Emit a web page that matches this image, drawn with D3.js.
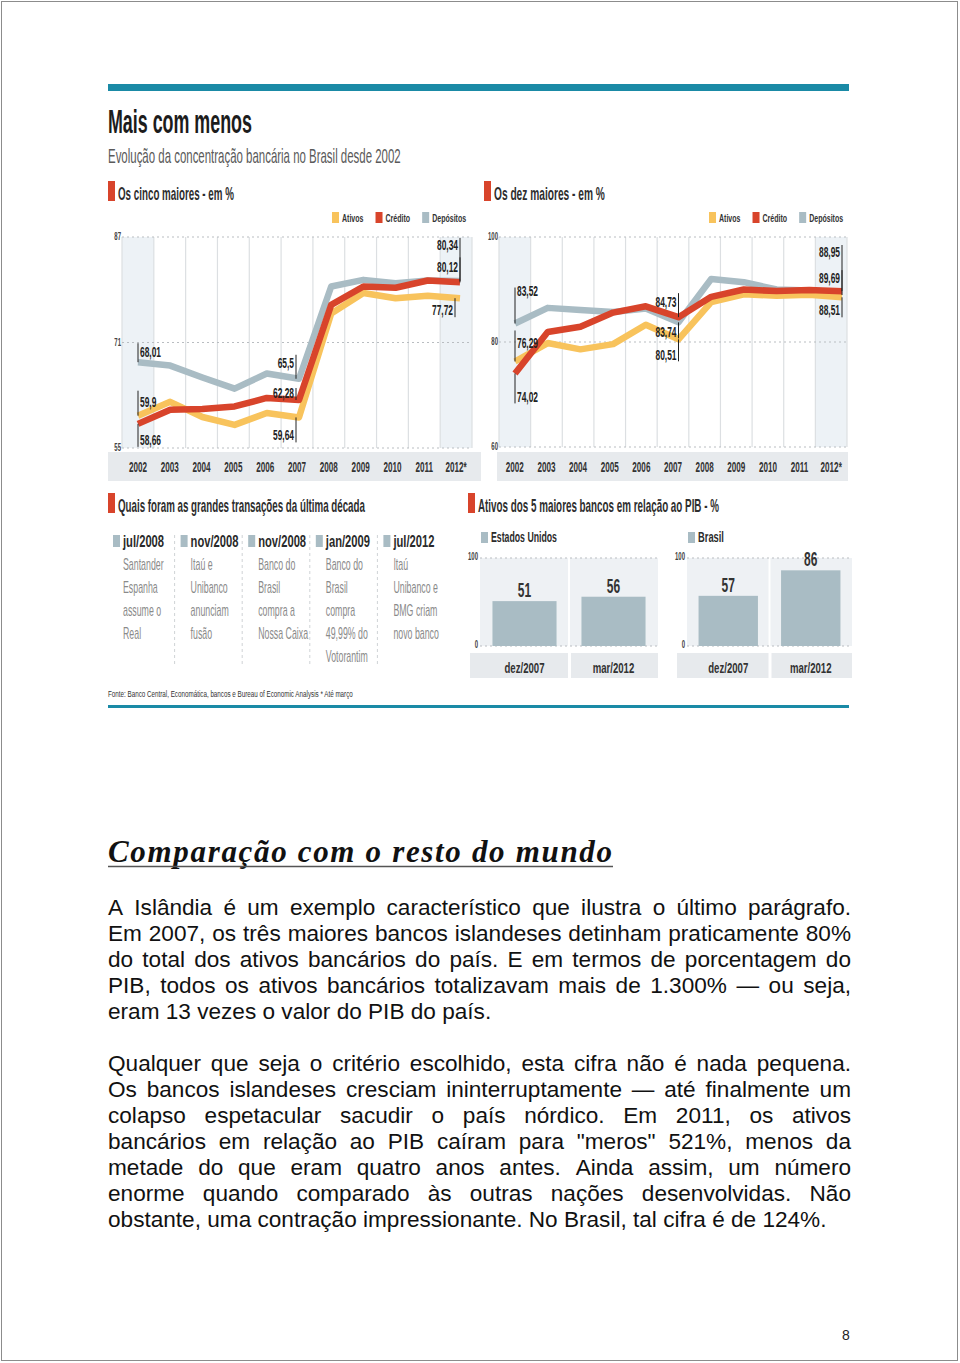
<!DOCTYPE html>
<html>
<head>
<meta charset="utf-8">
<script src="https://cdn.jsdelivr.net/npm/d3@7"></script>
<style>
  body { margin: 0; background: #fff; }
  svg { display: block; }
</style>
</head>
<body>
<div id="page"></div>
<script>
// ---- data ----
const years = ['2002', '2003', '2004', '2005', '2006', '2007', '2008', '2009', '2010', '2011', '2012'];
const yearLabels = ['2002', '2003', '2004', '2005', '2006', '2007', '2008', '2009', '2010', '2011', '2012*'];
const seriesNames = ['Ativos', 'Crédito', 'Depósitos'];

// os cinco maiores - em %
const cincoAtivos    = [59.9, 62.0, 59.7, 58.5, 60.3, 59.64, 75.4, 78.5, 77.7, 78.1, 77.72];
const cincoCredito   = [58.66, 60.8, 60.9, 61.3, 62.6, 62.28, 76.7, 79.5, 79.3, 80.4, 80.12];
const cincoDepositos = [68.01, 67.5, 65.7, 64.0, 66.3, 65.5, 79.5, 80.5, 80.0, 80.4, 80.34];
const cincoTicks = [55, 71, 87];

// os dez maiores - em %
const dezAtivos    = [76.29, 79.8, 78.6, 79.6, 83.3, 80.51, 87.6, 89.1, 88.8, 89.0, 88.51];
const dezCredito   = [74.02, 81.9, 82.9, 85.6, 86.8, 84.73, 88.6, 90.0, 89.7, 89.9, 89.69];
const dezDepositos = [83.52, 86.5, 86.1, 85.7, 86.4, 83.74, 92.0, 91.4, 90.0, 89.8, 88.95];
const dezTicks = [60, 80, 100];

// grandes transações
const dealDates = ['jul/2008', 'nov/2008', 'nov/2008', 'jan/2009', 'jul/2012'];
const dealTexts = [
  ['Santander', 'Espanha', 'assume o', 'Real'],
  ['Itaú e', 'Unibanco', 'anunciam', 'fusão'],
  ['Banco do', 'Brasil', 'compra a', 'Nossa Caixa'],
  ['Banco do', 'Brasil', 'compra', '49,99% do', 'Votorantim'],
  ['Itaú', 'Unibanco e', 'BMG criam', 'novo banco']
];

// ativos dos 5 maiores bancos em relação ao PIB - %
const pibPeriods = ['dez/2007', 'mar/2012'];
const euaValues = [51, 56];
const brasilValues = [57, 86];
const pibTicks = [0, 100];

const para1 = [
  'A Islândia é um exemplo característico que ilustra o último parágrafo.',
  'Em 2007, os três maiores bancos islandeses detinham praticamente 80%',
  'do total dos ativos bancários do país. E em termos de porcentagem do',
  'PIB, todos os ativos bancários totalizavam mais de 1.300% — ou seja,',
  'eram 13 vezes o valor do PIB do país.'
];
const para2 = [
  'Qualquer que seja o critério escolhido, esta cifra não é nada pequena.',
  'Os bancos islandeses cresciam ininterruptamente — até finalmente um',
  'colapso espetacular sacudir o país nórdico. Em 2011, os ativos',
  'bancários em relação ao PIB caíram para "meros" 521%, menos da',
  'metade do que eram quatro anos antes. Ainda assim, um número',
  'enorme quando comparado às outras nações desenvolvidas. Não',
  'obstante, uma contração impressionante. No Brasil, tal cifra é de 124%.'
];

// ---- drawing ----
const W = 960, H = 1363;
const TEAL = '#1a8aa6', YEL = '#f8c35c', RED = '#d8442b', GRY = '#a9bcc4';
const SHADE = '#edf2f6', BAND = '#e7eaed';
const colors = [YEL, RED, GRY];

const svg = d3.select('#page').append('svg')
    .attr('width', W)
    .attr('height', H)
    .attr('font-family', "'Liberation Sans', Arial, sans-serif");

svg.append('rect')
    .attr('x', 1.5).attr('y', 1.5)
    .attr('width', W - 4).attr('height', H - 4)
    .attr('fill', '#fff')
    .attr('stroke', '#8c8c8c');

// condensed look: squash each label horizontally around its anchor
function squeeze(sel, k) {
  sel.each(function() {
    const s = d3.select(this);
    const x = +s.attr('x') || 0, y = +s.attr('y') || 0;
    s.attr('x', 0).attr('y', 0)
     .attr('transform', `translate(${x},${y}) scale(${k},1)`);
  });
  return sel;
}
function fitTo(sel, w) {
  const k = w / sel.node().getComputedTextLength();
  return squeeze(sel, k);
}
const fmt = v => String(v).replace('.', ',');

// top rule and titles
svg.append('rect').attr('x', 108).attr('y', 84).attr('width', 741).attr('height', 7).attr('fill', TEAL);
fitTo(svg.append('text').attr('x', 108).attr('y', 133)
    .attr('font-size', 33).attr('font-weight', 'bold').attr('fill', '#1c1c1c')
    .text('Mais com menos'), 144);
fitTo(svg.append('text').attr('x', 108).attr('y', 163)
    .attr('font-size', 20).attr('fill', '#5a5a5a')
    .text('Evolução da concentração bancária no Brasil desde 2002'), 293);

function sectionHead(x, y, label, w) {
  svg.append('rect').attr('x', x).attr('y', y - 19).attr('width', 7).attr('height', 20).attr('fill', RED);
  fitTo(svg.append('text').attr('x', x + 10).attr('y', y)
      .attr('font-size', 18).attr('font-weight', 'bold').attr('fill', '#2e2e2e')
      .text(label), w);
}

function lineChart(cfg) {
  const g = svg.append('g');
  const x = d3.scaleBand().domain(years).range(cfg.band);
  const xp = d3.scalePoint().domain(years).range(cfg.points);
  const y = d3.scaleLinear().domain(cfg.domain).range(cfg.yRange);
  const top = cfg.yRange[1], bottom = cfg.yRange[0];

  sectionHead(cfg.headX, 200, cfg.title, cfg.titleW);

  // legend
  let lx = cfg.legendX;
  seriesNames.forEach((n, i) => {
    g.append('rect').attr('x', lx).attr('y', 212).attr('width', 7).attr('height', 11).attr('fill', colors[i]);
    const t = g.append('text').attr('x', lx + 10).attr('y', 222)
        .attr('font-size', 11).attr('font-weight', 'bold').attr('fill', '#333')
        .text(n);
    const w = t.node().getComputedTextLength() * 0.64;
    squeeze(t, 0.64);
    lx += 10 + w + 12;
  });

  // highlighted first and last columns
  [years[0], years[years.length - 1]].forEach(yr => {
    g.append('rect').attr('x', x(yr)).attr('y', top)
        .attr('width', x.bandwidth()).attr('height', bottom - top)
        .attr('fill', SHADE);
  });

  // column separators
  const edges = years.map(yr => x(yr)).concat([x(years[years.length - 1]) + x.bandwidth()]);
  g.selectAll('.vgrid').data(edges).join('line')
      .attr('x1', d => d).attr('x2', d => d)
      .attr('y1', top).attr('y2', bottom)
      .attr('stroke', '#dcdfe2').attr('stroke-width', 1.2);

  // dotted levels + tick labels
  g.selectAll('.hgrid').data(cfg.ticks).join('line')
      .attr('x1', cfg.band[0]).attr('x2', cfg.band[1])
      .attr('y1', d => y(d)).attr('y2', d => y(d))
      .attr('stroke', '#b9bdc1').attr('stroke-width', 1.2).attr('stroke-dasharray', '2,3');
  squeeze(g.selectAll('.tick').data(cfg.ticks).join('text')
      .attr('x', cfg.band[0] - 1).attr('y', d => y(d) + 3)
      .attr('text-anchor', 'end')
      .attr('font-size', 10).attr('font-weight', 'bold').attr('fill', '#444')
      .text(d => d), 0.6);

  // year band
  g.append('rect').attr('x', cfg.axisBand[0]).attr('y', 452)
      .attr('width', cfg.axisBand[1] - cfg.axisBand[0]).attr('height', 29)
      .attr('fill', BAND);
  squeeze(g.selectAll('.year').data(years).join('text')
      .attr('x', d => x(d) + x.bandwidth() / 2).attr('y', 472)
      .attr('text-anchor', 'middle')
      .attr('font-size', 14).attr('font-weight', 'bold').attr('fill', '#333')
      .text((d, i) => yearLabels[i]), 0.58);

  // lines: depósitos below, crédito on top
  const line = d3.line().x((d, i) => xp(years[i])).y(d => y(d));
  [2, 0, 1].forEach(s => {
    g.append('path').datum(cfg.series[s])
        .attr('d', line)
        .attr('fill', 'none')
        .attr('stroke', colors[s])
        .attr('stroke-width', 6.5)
        .attr('stroke-linejoin', 'round');
  });

  // value call-outs
  cfg.notes.forEach(n => {
    const v = cfg.series[n.s][n.i];
    const px = xp(years[n.i]) + (n.dx || 0), py = y(v);
    g.append('line')
        .attr('x1', px).attr('x2', px)
        .attr('y1', py).attr('y2', py + n.end)
        .attr('stroke', '#222').attr('stroke-width', 1);
    squeeze(g.append('text')
        .attr('x', n.anchor === 'end' ? px - 2 : px + 2)
        .attr('y', py + n.base)
        .attr('text-anchor', n.anchor)
        .attr('font-size', 14).attr('font-weight', 'bold').attr('fill', '#222')
        .text(fmt(v)), 0.6);
  });
}

lineChart({
  title: 'Os cinco maiores - em %', titleW: 116, headX: 108, legendX: 332,
  band: [122, 472], points: [138, 460], domain: [55, 87], yRange: [448, 237],
  ticks: cincoTicks, axisBand: [108, 481],
  series: [cincoAtivos, cincoCredito, cincoDepositos],
  notes: [
    {s: 2, i: 0, end: -19, base: -5, anchor: 'start'},
    {s: 0, i: 0, end: -25, base: -9, anchor: 'start'},
    {s: 1, i: 0, end: 23, base: 21, anchor: 'start'},
    {s: 2, i: 5, end: -24, base: -11, anchor: 'end', dx: -3},
    {s: 1, i: 5, end: -12, base: -2, anchor: 'end', dx: -3},
    {s: 0, i: 5, end: 25, base: 23, anchor: 'end', dx: -3},
    {s: 2, i: 10, end: -43, base: -31, anchor: 'end'},
    {s: 1, i: 10, end: -25, base: -10, anchor: 'end'},
    {s: 0, i: 10, end: 19, base: 17, anchor: 'end', dx: -5}
  ]
});

lineChart({
  title: 'Os dez maiores - em %', titleW: 111, headX: 484, legendX: 709,
  band: [499, 847], points: [515, 842], domain: [60, 100], yRange: [447, 237],
  ticks: dezTicks, axisBand: [497, 848],
  series: [dezAtivos, dezCredito, dezDepositos],
  notes: [
    {s: 2, i: 0, end: -36, base: -28, anchor: 'start'},
    {s: 0, i: 0, end: -31, base: -13, anchor: 'start'},
    {s: 1, i: 0, end: 30, base: 29, anchor: 'start'},
    {s: 1, i: 5, end: -24, base: -10, anchor: 'end'},
    {s: 2, i: 5, end: 16, base: 15, anchor: 'end'},
    {s: 0, i: 5, end: 22, base: 21, anchor: 'end'},
    {s: 2, i: 10, end: -50, base: -38, anchor: 'end'},
    {s: 1, i: 10, end: -21, base: -8, anchor: 'end'},
    {s: 0, i: 10, end: 20, base: 18, anchor: 'end'}
  ]
});

// ---- grandes transações ----
sectionHead(108, 512, 'Quais foram as grandes transações da última década', 247);
dealDates.forEach((d, i) => {
  const cx = 113 + i * 67.6;
  if (i > 0) {
    svg.append('line').attr('x1', cx - 6).attr('x2', cx - 6).attr('y1', 535).attr('y2', 665)
        .attr('stroke', '#cfd3d6').attr('stroke-dasharray', '3,3');
  }
  svg.append('rect').attr('x', cx).attr('y', 535).attr('width', 7).attr('height', 12).attr('fill', GRY);
  squeeze(svg.append('text').attr('x', cx + 10).attr('y', 547)
      .attr('font-size', 16).attr('font-weight', 'bold').attr('fill', '#2a2a2a')
      .text(d), 0.7);
  squeeze(svg.selectAll(null).data(dealTexts[i]).join('text')
      .attr('x', cx + 10).attr('y', (t, k) => 570 + k * 23.1)
      .attr('font-size', 16).attr('fill', '#8a8a8a')
      .text(t => t), 0.55);
});
fitTo(svg.append('text').attr('x', 108).attr('y', 697)
    .attr('font-size', 9).attr('fill', '#333')
    .text('Fonte: Banco Central, Economática, bancos e Bureau of Economic Analysis * Até março'), 245);
svg.append('rect').attr('x', 108).attr('y', 705).attr('width', 741).attr('height', 3).attr('fill', TEAL);

// ---- ativos em relação ao PIB ----
sectionHead(468, 512, 'Ativos dos 5 maiores bancos em relação ao PIB - %', 241);

function barChart(cfg) {
  const g = svg.append('g');
  const x = d3.scaleBand().domain(pibPeriods).range(cfg.range).paddingInner(0.28).paddingOuter(0.14);
  const y = d3.scaleLinear().domain([0, 100]).range([646, 558]);
  const mid = x.range()[0] + x.step();

  g.append('rect').attr('x', cfg.range[0] + 1).attr('y', 532).attr('width', 7).attr('height', 11).attr('fill', GRY);
  fitTo(g.append('text').attr('x', cfg.range[0] + 11).attr('y', 542)
      .attr('font-size', 15).attr('font-weight', 'bold').attr('fill', '#2b2b2b')
      .text(cfg.title), cfg.titleW);

  g.append('rect').attr('x', cfg.range[0]).attr('y', y(100))
      .attr('width', cfg.range[1] - cfg.range[0]).attr('height', y(0) - y(100))
      .attr('fill', '#eef1f4');
  g.append('line').attr('x1', mid).attr('x2', mid).attr('y1', y(100)).attr('y2', y(0))
      .attr('stroke', '#fff').attr('stroke-width', 2);
  g.selectAll('.hgrid').data(pibTicks).join('line')
      .attr('x1', cfg.range[0]).attr('x2', cfg.range[1])
      .attr('y1', d => y(d)).attr('y2', d => y(d))
      .attr('stroke', '#b9bdc1').attr('stroke-width', 1.2).attr('stroke-dasharray', '2,3');
  squeeze(g.selectAll('.tick').data(pibTicks).join('text')
      .attr('x', cfg.range[0] - 2).attr('y', d => y(d) + 2)
      .attr('text-anchor', 'end')
      .attr('font-size', 10).attr('font-weight', 'bold').attr('fill', '#444')
      .text(d => d), 0.6);

  g.selectAll('.bar').data(cfg.values).join('rect')
      .attr('x', (d, i) => x(pibPeriods[i]))
      .attr('y', d => y(d))
      .attr('width', x.bandwidth())
      .attr('height', d => y(0) - y(d))
      .attr('fill', GRY);
  squeeze(g.selectAll('.val').data(cfg.values).join('text')
      .attr('x', (d, i) => x(pibPeriods[i]) + x.bandwidth() / 2)
      .attr('y', d => y(d) - 4)
      .attr('text-anchor', 'middle')
      .attr('font-size', 20).attr('font-weight', 'bold').attr('fill', '#333')
      .text(d => d), 0.6);

  // label band
  g.append('rect').attr('x', cfg.range[0] - 10).attr('y', 653)
      .attr('width', mid - 1 - (cfg.range[0] - 10)).attr('height', 25).attr('fill', BAND);
  g.append('rect').attr('x', mid + 2).attr('y', 653)
      .attr('width', cfg.range[1] - mid - 2).attr('height', 25).attr('fill', BAND);
  squeeze(g.selectAll('.per').data(pibPeriods).join('text')
      .attr('x', d => x(d) + x.bandwidth() / 2)
      .attr('y', 673)
      .attr('text-anchor', 'middle')
      .attr('font-size', 15).attr('font-weight', 'bold').attr('fill', '#333')
      .text(d => d), 0.64);
}

barChart({title: 'Estados Unidos', titleW: 66, range: [480, 658], values: euaValues});
barChart({title: 'Brasil', titleW: 26, range: [687, 852], values: brasilValues});

// ---- texto ----
const headTxt = 'Comparação com o resto do mundo';
const head = svg.append('text').attr('x', 108).attr('y', 862)
    .attr('font-family', "'Liberation Serif', 'DejaVu Serif', serif")
    .attr('font-size', 31).attr('font-weight', 'bold').attr('font-style', 'italic')
    .attr('fill', '#111')
    .text(headTxt);
const headW = head.node().getComputedTextLength();
head.attr('letter-spacing', (504 - headW) / (headTxt.length - 1));
svg.append('line').attr('x1', 108).attr('x2', 613).attr('y1', 866.5).attr('y2', 866.5)
    .attr('stroke', '#555').attr('stroke-width', 1.3);

function paragraph(lines, y0) {
  const x0 = 108, x1 = 851, lh = 26, fs = 22.6;
  lines.forEach((ln, li) => {
    const words = ln.split(' ');
    const yy = y0 + li * lh;
    const ts = words.map(w => svg.append('text').attr('y', yy)
        .attr('font-size', fs).attr('fill', '#111').text(w));
    const widths = ts.map(t => t.node().getComputedTextLength());
    const last = li === lines.length - 1;
    const gap = last ? fs * 0.278 : (x1 - x0 - d3.sum(widths)) / (words.length - 1);
    let cx = x0;
    ts.forEach((t, k) => { t.attr('x', cx); cx += widths[k] + gap; });
  });
}
paragraph(para1, 915);
paragraph(para2, 1071);

svg.append('text').attr('x', 842).attr('y', 1340)
    .attr('font-size', 14).attr('fill', '#222').text('8');
</script>
</body>
</html>
